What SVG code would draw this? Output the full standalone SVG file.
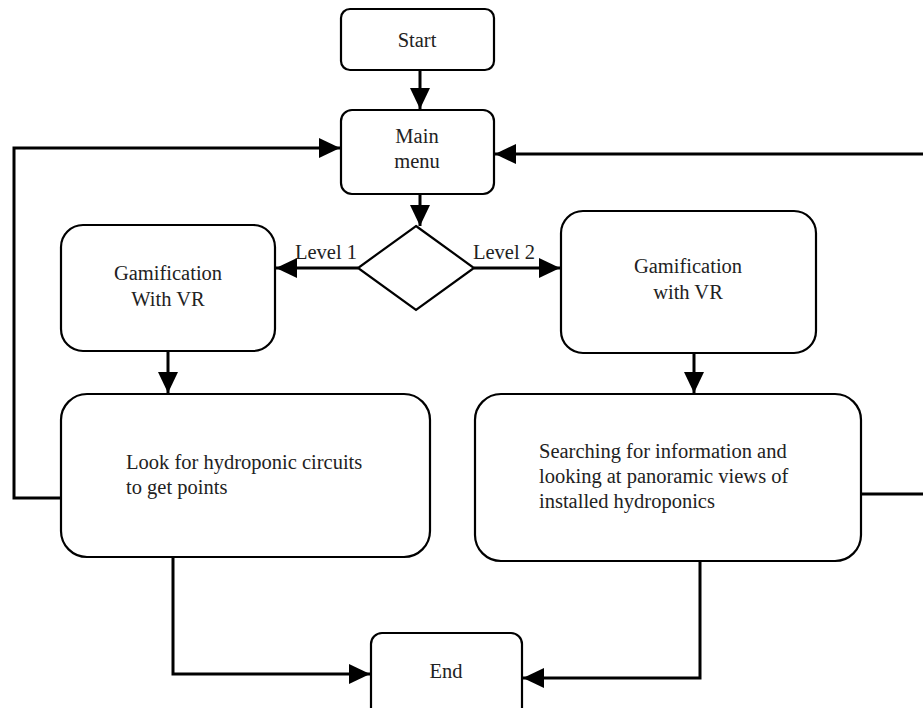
<svg xmlns="http://www.w3.org/2000/svg" width="923" height="708" viewBox="0 0 923 708">
<defs>
<marker id="ah" markerUnits="userSpaceOnUse" markerWidth="22" markerHeight="22" viewBox="0 0 22 22" refX="21" refY="11" orient="auto">
<path d="M0,1 L21,11 L0,21 Z" fill="#000"/>
</marker>
</defs>
<style>
.box{fill:#fff;stroke:#000;stroke-width:2.2}
.c{fill:none;stroke:#000;stroke-width:3;marker-end:url(#ah)}
.cn{fill:none;stroke:#000;stroke-width:3}
text{font-family:"Liberation Serif","DejaVu Serif",serif;font-size:20.5px;fill:#222}
.m{text-anchor:middle}
</style>
<rect width="923" height="708" fill="#fff"/>
<g id="connectors">
<path class="c" d="M420,70 V109"/>
<path class="c" d="M420,194 V226"/>
<path class="c" d="M358,268 H276"/>
<path class="c" d="M474,268 H560"/>
<path class="c" d="M168,351 V393"/>
<path class="c" d="M694,353 V393"/>
<path class="c" d="M61,498 H14 V148 H340"/>
<path class="cn" d="M861,494 H923"/>
<path class="c" d="M923,154 H495"/>
<path class="c" d="M173,557 V674 H370"/>
<path class="c" d="M700,561 V678 H523"/>
</g>
<g id="start"><rect class="box" x="341" y="9" width="153" height="61" rx="9"/><text class="m" x="417" y="47">Start</text></g>
<g id="main-menu"><rect class="box" x="341" y="110" width="153" height="84" rx="11"/><text class="m" x="417" y="143">Main</text><text class="m" x="417" y="168">menu</text></g>
<g id="decision"><path class="box" d="M416,226 L474,268 L416,310 L358,268 Z"/></g>
<text id="lbl-level1" x="357" y="259" text-anchor="end">Level 1</text>
<text id="lbl-level2" x="473" y="259">Level 2</text>
<g id="gam-left"><rect class="box" x="61" y="225" width="214" height="126" rx="22"/><text class="m" x="168" y="280">Gamification</text><text class="m" x="168" y="306">With VR</text></g>
<g id="gam-right"><rect class="box" x="561" y="211" width="255" height="142" rx="22"/><text class="m" x="688" y="273">Gamification</text><text class="m" x="688" y="299">with VR</text></g>
<g id="look"><rect class="box" x="61" y="394" width="369" height="163" rx="26"/><text x="126" y="469">Look for hydroponic circuits</text><text x="126" y="494">to get points</text></g>
<g id="search"><rect class="box" x="475" y="394" width="386" height="167" rx="26"/><text x="539" y="458">Searching for information and</text><text x="539" y="483">looking at panoramic views of</text><text x="539" y="508">installed hydroponics</text></g>
<g id="end"><rect class="box" x="371" y="633" width="151" height="90" rx="11"/><text class="m" x="446" y="678">End</text></g>
</svg>
